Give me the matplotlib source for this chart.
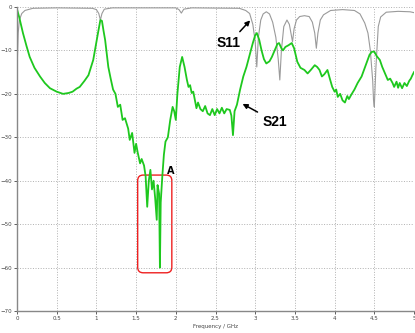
import matplotlib
matplotlib.use('Agg')
import matplotlib.pyplot as plt
from matplotlib.patches import FancyBboxPatch

# S21 trace (GHz, dB)
s21_freq = [0.00, 0.03, 0.075, 0.12, 0.16, 0.22, 0.29, 0.35, 0.415, 0.5, 0.58, 0.65,
            0.70, 0.75, 0.79, 0.85, 0.90, 0.96, 1.00, 1.02, 1.05, 1.07, 1.09, 1.11,
            1.15, 1.18, 1.21, 1.24, 1.27, 1.30, 1.33, 1.36, 1.40, 1.42, 1.45, 1.48,
            1.50, 1.52, 1.55, 1.57, 1.60, 1.62, 1.64, 1.66, 1.68, 1.70, 1.72, 1.74,
            1.76, 1.77, 1.79, 1.80, 1.81, 1.83, 1.85, 1.87, 1.90, 1.93, 1.96, 1.98,
            2.00, 2.02, 2.05, 2.08, 2.11, 2.14, 2.16, 2.18, 2.20, 2.22, 2.24, 2.26,
            2.28, 2.31, 2.34, 2.37, 2.40, 2.43, 2.46, 2.49, 2.52, 2.55, 2.58, 2.61,
            2.64, 2.68, 2.70, 2.72, 2.74, 2.77, 2.81, 2.85, 2.89, 2.93, 2.97, 3.00,
            3.02, 3.05, 3.08, 3.11, 3.14, 3.18, 3.21, 3.25, 3.28, 3.30, 3.33, 3.35,
            3.38, 3.42, 3.46, 3.49, 3.53, 3.57, 3.62, 3.66, 3.70, 3.75, 3.78, 3.81,
            3.84, 3.87, 3.91, 3.94, 3.97, 4.00, 4.02, 4.04, 4.07, 4.10, 4.13, 4.16,
            4.18, 4.21, 4.25, 4.29, 4.34, 4.38, 4.40, 4.44, 4.47, 4.50, 4.53, 4.57,
            4.60, 4.64, 4.67, 4.70, 4.73, 4.75, 4.78, 4.80, 4.82, 4.85, 4.88, 4.91,
            4.94, 4.96, 4.98, 5.00]
s21_db = [-0.5, -2.5, -6, -9, -11.5, -14, -16, -17.5, -18.7, -19.5, -20, -19.8,
          -19.5, -18.8, -18.4, -17, -15.7, -12.2, -8, -6, -3, -3.2, -5.5, -7.6,
          -13.8, -16.5, -19, -20, -23, -22.5, -26, -25.6, -28, -30.6, -29, -33.6,
          -31.5, -33.5, -36, -35, -36.5, -39, -46, -40, -37.5, -42, -40, -44,
          -49, -41, -43, -60, -45, -39, -34, -31, -30, -26, -23, -24,
          -26, -20, -13.8, -11.5, -13.8, -16.8, -18.4, -18, -19.8, -19.5, -21.4, -23.3,
          -22, -23.5, -24, -22.8, -24.5, -24.9, -23.5, -24.9, -23.5, -24.5, -23.2, -24.5,
          -23.5, -23.7, -25, -29.5, -24, -22.5, -19, -16, -13.8, -11, -8.3, -6.5,
          -6, -7.5, -10, -12, -13, -12.5, -11.5, -9.8, -8.5, -8.3, -9.5, -10,
          -9.2, -8.8, -8.3, -9.5, -12.6, -14, -14.5, -15.3, -14.5, -13.4, -13.8, -14.5,
          -16, -15.5, -14.5, -16.5, -18.4, -19.5, -19, -20.7, -20, -21.5, -22, -20.5,
          -21.2, -20.2, -19, -17.5, -16, -14, -13, -11, -10.3, -10.3, -11.3, -12.2,
          -13.8, -15.5, -16.8, -16.5, -17.5, -18.4, -17.2, -18.6, -17.5, -18.7, -17.5, -18.2,
          -17, -16.5, -15.7, -15]

# S11 trace
s11_freq = [0.00, 0.005, 0.015, 0.03, 0.06, 0.1, 0.2, 0.5, 0.95, 1.0, 1.03, 1.05,
            1.07, 1.1, 1.2, 2.0, 2.04, 2.07, 2.10, 2.2, 2.8, 2.88, 2.93, 2.97,
            3.00, 3.02, 3.04, 3.07, 3.10, 3.14, 3.18, 3.22, 3.26, 3.29, 3.31, 3.33,
            3.36, 3.40, 3.43, 3.45, 3.47, 3.49, 3.52, 3.56, 3.62, 3.68, 3.72, 3.75,
            3.77, 3.79, 3.82, 3.86, 3.95, 4.1, 4.25, 4.32, 4.38, 4.42, 4.45, 4.48,
            4.49, 4.50, 4.52, 4.55, 4.58, 4.65, 4.8, 4.95, 5.00]
s11_db = [-20, -12, -6, -3, -1.5, -0.8, -0.3, -0.2, -0.3, -0.6, -1.5, -3,
          -1.5, -0.5, -0.2, -0.2, -0.6, -1.4, -0.5, -0.2, -0.3, -0.8, -1.5, -4,
          -8, -13.8, -7, -3, -1.6, -1.1, -1.6, -3.5, -7, -12, -16.8, -10,
          -4.5, -3, -4, -6, -8, -5, -3, -2.2, -2.0, -2.2, -3.5, -6,
          -9.5, -6, -3, -1.8, -0.8, -0.6, -0.8, -1.6, -3.7, -6, -10, -17,
          -21.4, -23, -14, -4.5, -2.3, -1.2, -1.0, -1.1, -1.3]

x_ticks = [0, 0.5, 1, 1.5, 2, 2.5, 3, 3.5, 4, 4.5, 5]
x_labels = ['0', '0.5', '1', '1.5', '2', '2.5', '3', '3.5', '4', '4.5', '5']
y_ticks = [0, -10, -20, -30, -40, -50, -60, -70]

fig = plt.figure(figsize=(4.15, 3.33), dpi=100)
ax = fig.add_axes([17 / 415, 1 - 311 / 333, 397 / 415, 304 / 333])

ax.plot(s11_freq, s11_db, color='#9a9a9a', lw=0.8)
ax.plot(s21_freq, s21_db, color='#1ec81e', lw=1.3)

ax.set_xlim(0, 5)
ax.set_ylim(-70, 0)
ax.set_xticks(x_ticks)
ax.set_xticklabels(x_labels)
ax.set_yticks(y_ticks)
ax.tick_params(labelsize=4, colors='#444444', length=2, width=0.6, pad=1.5)
ax.grid(True, color='#b0b0b0', ls=':', lw=0.7)
for side in ['top', 'right']:
    ax.spines[side].set_visible(False)
for side in ['left', 'bottom']:
    ax.spines[side].set_color('#888888')
    ax.spines[side].set_linewidth(1.0)
ax.set_xlabel('Frequency / GHz', fontsize=4, color='#444444', labelpad=2)

# annotations
lab_font = dict(family=['Liberation Sans Narrow', 'Liberation Sans', 'DejaVu Sans'],
                fontsize=10, fontweight='bold')
arrow = dict(arrowstyle='-|>', color='black', lw=1.1, mutation_scale=7)
ax.annotate('S11', xy=(2.96, -2.6), xytext=(2.67, -8.4), ha='center', va='center',
            arrowprops=arrow, **lab_font)
ax.annotate('S21', xy=(2.81, -22), xytext=(3.25, -26.4), ha='center', va='center',
            arrowprops=arrow, **lab_font)
ax.text(1.94, -37.8, 'A', fontsize=7, fontweight='bold', ha='center', va='center')

box = FancyBboxPatch((1.52, -61.2), 0.43, 22.5,
                     boxstyle='round,pad=0,rounding_size=0.07',
                     mutation_aspect=18, fc='none', ec='#ee2020', lw=1.0)
ax.add_patch(box)

fig.savefig('out.png', dpi=100)
